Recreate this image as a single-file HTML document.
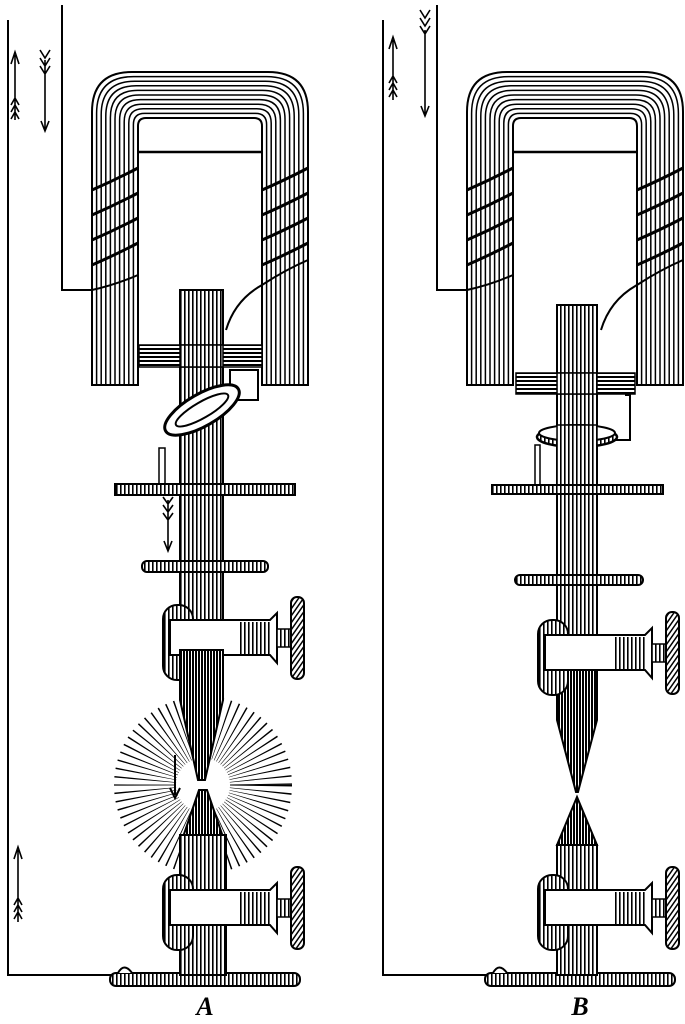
<!DOCTYPE html>
<html><head><meta charset="utf-8"><style>
html,body{margin:0;padding:0;background:#fff;}
svg{display:block}
</style></head><body>
<svg width="685" height="1024" viewBox="0 0 685 1024" xmlns="http://www.w3.org/2000/svg">
<defs>
<pattern id="vh" width="4" height="4" patternUnits="userSpaceOnUse"><rect width="4" height="4" fill="#fff"/><rect x="0" width="1.6" height="4" fill="#000"/></pattern>
<pattern id="vd" width="3" height="4" patternUnits="userSpaceOnUse"><rect width="3" height="4" fill="#fff"/><rect x="0" width="2" height="4" fill="#000"/></pattern>
<pattern id="hh" width="4" height="4" patternUnits="userSpaceOnUse"><rect width="4" height="4" fill="#fff"/><rect y="0" width="4" height="2" fill="#000"/></pattern>
<pattern id="dg" width="4" height="4" patternUnits="userSpaceOnUse" patternTransform="rotate(35)"><rect width="4" height="4" fill="#fff"/><rect width="1.5" height="4" fill="#000"/></pattern>
<g id="common">
  <path d="M92,385 L92,112 Q92,72 132,72 L268,72 Q308,72 308,112 L308,385 L262,385 L262,126 Q262,118 254,118 L146,118 Q138,118 138,126 L138,385 Z" fill="#fff" stroke="#000" stroke-width="2"/>
  <g fill="none" stroke="#000" stroke-width="1.5">
    <path d="M96.6,385 L96.6,113.4 Q96.6,76.6 133.4,76.6 L266.6,76.6 Q303.4,76.6 303.4,113.4 L303.4,385"/>
    <path d="M101.2,385 L101.2,114.8 Q101.2,81.2 134.8,81.2 L265.2,81.2 Q298.8,81.2 298.8,114.8 L298.8,385"/>
    <path d="M105.8,385 L105.8,116.2 Q105.8,85.8 136.2,85.8 L263.8,85.8 Q294.2,85.8 294.2,116.2 L294.2,385"/>
    <path d="M110.4,385 L110.4,117.6 Q110.4,90.4 137.6,90.4 L262.4,90.4 Q289.6,90.4 289.6,117.6 L289.6,385"/>
    <path d="M115,385 L115,119 Q115,95 139,95 L261,95 Q285,95 285,119 L285,385"/>
    <path d="M119.6,385 L119.6,120.4 Q119.6,99.6 140.4,99.6 L259.6,99.6 Q280.4,99.6 280.4,120.4 L280.4,385"/>
    <path d="M124.2,385 L124.2,121.8 Q124.2,104.2 141.8,104.2 L258.2,104.2 Q275.8,104.2 275.8,121.8 L275.8,385"/>
    <path d="M128.8,385 L128.8,123.2 Q128.8,108.8 143.2,108.8 L256.8,108.8 Q271.2,108.8 271.2,123.2 L271.2,385"/>
    <path d="M133.4,385 L133.4,124.6 Q133.4,113.4 144.6,113.4 L255.4,113.4 Q266.6,113.4 266.6,124.6 L266.6,385"/>
  </g>
  <line x1="138" y1="152" x2="262" y2="152" stroke="#000" stroke-width="2.5"/>
  <g fill="none" stroke="#000" stroke-width="3">
    <path d="M92,190 Q115,180 138,168 M92,215 Q115,205 138,193 M92,240 Q115,230 138,218 M92,265 Q115,255 138,243"/>
    <path d="M262,190 Q285,180 308,168 M262,215 Q285,205 308,193 M262,240 Q285,230 308,218 M262,265 Q285,255 308,243"/>
  </g>
  <path d="M62,5 L62,290 L92,290 Q115,285 138,275" fill="none" stroke="#000" stroke-width="2"/>
  <path d="M308,260 Q285,270 262,285 Q235,300 226,330" fill="none" stroke="#000" stroke-width="2"/>
  <path d="M8,20 L8,975 L115,975" fill="none" stroke="#000" stroke-width="2"/>
  <rect x="110" y="973" width="190" height="13" rx="6" fill="url(#vh)" stroke="#000" stroke-width="2"/>
  <path d="M118,973 Q124,962 132,973" fill="#fff" stroke="#000" stroke-width="2"/>
</g>
<g id="clamp">
  <rect x="163" y="0" width="30" height="75" rx="14" fill="url(#vh)" stroke="#000" stroke-width="2"/>
  <path d="M170,15 L270,15 L277,8 L277,58 L270,50 L170,50 Z" fill="#fff" stroke="#000" stroke-width="2"/>
  <rect x="240" y="17" width="30" height="32" fill="url(#vh)"/>
  <rect x="277" y="24" width="15" height="18" fill="url(#vh)" stroke="#000" stroke-width="1.5"/>
  <rect x="291" y="-8" width="13" height="82" rx="6" fill="url(#dg)" stroke="#000" stroke-width="2"/>
</g>
</defs>

<use href="#common"/>
<rect x="180" y="290" width="43" height="340" fill="url(#vh)" stroke="#000" stroke-width="2"/>
<rect x="139" y="345" width="123" height="22" fill="url(#hh)" stroke="#000" stroke-width="1.5"/>
<rect x="180" y="345" width="43" height="22" fill="url(#vh)" stroke="#000" stroke-width="1.5"/>
<rect x="230" y="370" width="28" height="30" fill="#fff" stroke="#000" stroke-width="2"/>
<ellipse cx="202" cy="410" rx="42" ry="16" transform="rotate(-30 202 410)" fill="#fff" stroke="#000" stroke-width="3"/>
<ellipse cx="202" cy="410" rx="30" ry="8" transform="rotate(-30 202 410)" fill="none" stroke="#000" stroke-width="2"/>
<rect x="159" y="448" width="6" height="40" fill="#fff" stroke="#000" stroke-width="1.5"/>
<rect x="115" y="484" width="180" height="11" fill="url(#vh)" stroke="#000" stroke-width="2"/>
<rect x="142" y="561" width="126" height="11" rx="5" fill="url(#vh)" stroke="#000" stroke-width="2"/>
<use href="#clamp" transform="translate(0,605)"/>
<circle cx="203" cy="785" r="58" fill="none" stroke="#000" stroke-width="62" stroke-dasharray="1 4.5"/>
<circle cx="203" cy="785" r="26" fill="#fff"/>
<path d="M180,650 L180,700 L198,780 L205,780 L223,700 L223,650 Z" fill="url(#vd)" stroke="#000" stroke-width="2"/>
<path d="M175,755 L175,795 M170,788 L175,798 L180,788" fill="none" stroke="#000" stroke-width="2"/>
<path d="M182,840 L199,790 L207,790 L224,840 Z" fill="url(#vd)" stroke="#000" stroke-width="2"/>
<rect x="180" y="835" width="46" height="140" fill="url(#vh)" stroke="#000" stroke-width="2"/>
<use href="#clamp" transform="translate(0,875)"/>
<g stroke="#000" stroke-width="1.6" fill="none">
<path d="M15,120 L15,55 M11,64 L15,52 L19,64 M11,105 L15,98 L19,105 M11,112 L15,105 L19,112 M11,119 L15,112 L19,119"/>
<path d="M45,130 L45,60 M41,121 L45,131 L49,121 M40,50 L45,58 L50,50 M40,58 L45,66 L50,58 M40,66 L45,74 L50,66"/>
<path d="M168,550 L168,500 M164,541 L168,551 L172,541 M163,497 L168,504 L173,497 M163,505 L168,512 L173,505 M163,513 L168,520 L173,513"/>
<path d="M18,922 L18,850 M14,859 L18,847 L22,859 M14,905 L18,898 L22,905 M14,912 L18,905 L22,912 M14,919 L18,912 L22,919"/>
</g>
<text x="205" y="1015" font-family="Liberation Serif, serif" font-size="26" font-weight="bold" font-style="italic" text-anchor="middle">A</text>

<use href="#common" transform="translate(375,0)"/>
<rect x="557" y="305" width="40" height="330" fill="url(#vh)" stroke="#000" stroke-width="2"/>
<path d="M557,650 L557,720 L576,792 L578,792 L597,720 L597,650 Z" fill="url(#vd)" stroke="#000" stroke-width="2"/>
<rect x="516" y="373" width="119" height="21" fill="url(#hh)" stroke="#000" stroke-width="1.5"/>
<rect x="557" y="373" width="40" height="21" fill="url(#vh)" stroke="#000" stroke-width="1.5"/>
<path d="M625,395 L630,395 L630,440 L615,440" fill="none" stroke="#000" stroke-width="2"/>
<ellipse cx="577" cy="437" rx="40" ry="10" fill="url(#vh)" stroke="#000" stroke-width="2.5"/>
<ellipse cx="577" cy="433" rx="38" ry="8" fill="#fff" stroke="#000" stroke-width="2"/>
<rect x="557" y="425" width="40" height="60" fill="url(#vh)" stroke="#000" stroke-width="1.5"/>
<rect x="535" y="445" width="5" height="40" fill="#fff" stroke="#000" stroke-width="1.5"/>
<rect x="492" y="485" width="171" height="9" fill="url(#vh)" stroke="#000" stroke-width="2"/>
<rect x="515" y="575" width="128" height="10" rx="5" fill="url(#vh)" stroke="#000" stroke-width="2"/>
<use href="#clamp" transform="translate(375,620)"/>
<path d="M577,797 L557,845 L597,845 Z" fill="url(#vd)" stroke="#000" stroke-width="2"/>
<rect x="557" y="845" width="40" height="130" fill="url(#vh)" stroke="#000" stroke-width="2"/>
<use href="#clamp" transform="translate(375,875)"/>
<g stroke="#000" stroke-width="1.6" fill="none">
<path d="M393,100 L393,40 M389,49 L393,37 L397,49 M389,83 L393,76 L397,83 M389,90 L393,83 L397,90 M389,97 L393,90 L397,97"/>
<path d="M425,115 L425,30 M421,106 L425,116 L429,106 M420,10 L425,18 L430,10 M420,18 L425,26 L430,18 M420,26 L425,34 L430,26"/>
</g>
<text x="580" y="1015" font-family="Liberation Serif, serif" font-size="26" font-weight="bold" font-style="italic" text-anchor="middle">B</text>
</svg>
</body></html>
